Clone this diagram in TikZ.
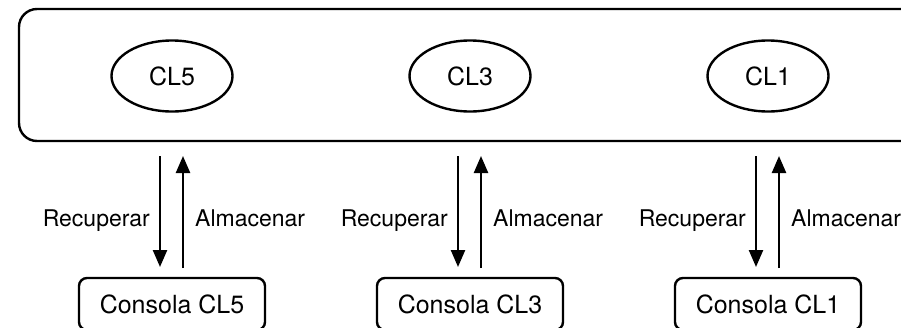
\documentclass[tikz,border=0pt]{standalone}
\usepackage{fontspec}
\setmainfont{TeX Gyre Heros}
\usetikzlibrary{shapes.geometric,arrows.meta}
\begin{document}
\begin{tikzpicture}[x=1pt,y=-1pt,
  lw/.style={line width=2.4pt},
  bigbox/.style={draw,lw,rounded corners=18pt,minimum width=930pt,minimum height=132pt,anchor=north west,outer sep=0pt,inner sep=0pt},
  cl/.style={draw,lw,ellipse,minimum width=121pt,minimum height=71pt,inner sep=0pt,font=\fontsize{25}{30}\selectfont},
  console/.style={draw,lw,rounded corners=8pt,minimum width=186pt,minimum height=52pt,anchor=north,outer sep=0pt,inner sep=0pt,font=\fontsize{25}{30}\selectfont},
  lbl/.style={font=\fontsize{23}{28}\selectfont,inner sep=0pt},
  arr/.style={lw,-{Triangle[length=17pt,width=14pt]}}]
\useasboundingbox (0,0) rectangle (901,327);
\clip (0,0) rectangle (901,327);
\node[bigbox] (top) at (19,9) {};
% columns
\foreach \n/\c in {5/172,3/470,1/768}{
  \node[cl] (e\n) at (\c,76) {CL\n};
  \node[console] (b\n) at (\c,278) {Consola CL\n};
  \coordinate (d\n) at (\c-12,0);
  \coordinate (u\n) at (\c+11,0);
  \draw[arr,shorten <=15pt,shorten >=11pt] (top.south -| d\n) -- (b\n.north -| d\n);
  \draw[arr,shorten <=10pt,shorten >=15pt] (b\n.north -| u\n) -- (top.south -| u\n);
  \node[lbl,anchor=base east] (r\n) at (\c-22,226) {Recuperar};
  \node[lbl,anchor=base west] (a\n) at (\c+23,226) {Almacenar};
}
\end{tikzpicture}
\end{document}
